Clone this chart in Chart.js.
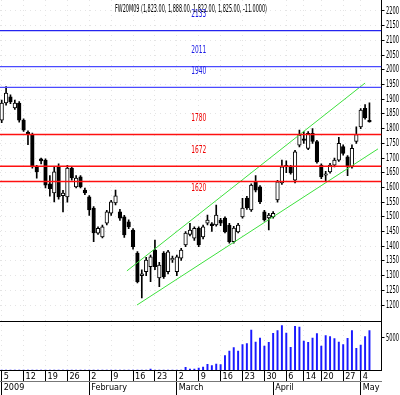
<!DOCTYPE html>
<html><head><meta charset="utf-8">
<script src="https://cdn.jsdelivr.net/npm/chart.js@4.4.1/dist/chart.umd.min.js"></script>
<style>html,body{margin:0;padding:0;background:#fff;}canvas{display:block;}</style>
</head><body>
<canvas id="c" width="400" height="395"></canvas>
<script>
// ---------------- data ----------------
const title = 'FW20M09 (1,823.00, 1,888.00, 1,822.00, 1,825.00, -11.0000)';
const opens = [1829,1887,1908,1870,1887,1829,1788,1778,1670,1697,
  1693,1612,1581,1670,1572,1568,1666,1602,1636,1591,
  1568,1530,1444,1432,1478,1512,1547,1517,1500,1483,
  1455,1377,1300,1313,1330,1387,1292,1377,1313,1353,
  1313,1359,1404,1440,1427,1461,1432,1478,1476,1472,
  1489,1496,1472,1415,1449,1500,1564,1523,1619,1602,
  1517,1496,1500,1557,1615,1675,1670,1625,1744,1765,
  1733,1784,1756,1676,1642,1653,1676,1693,1739,1704,
  1670,1756,1806,1869,1828];
const highs = [1897,1943,1915,1897,1892,1833,1792,1785,1675,1700,
  1697,1640,1670,1680,1590,1675,1670,1640,1640,1598,
  1572,1535,1466,1472,1522,1556,1591,1525,1505,1490,
  1460,1382,1320,1362,1370,1421,1345,1382,1386,1366,
  1370,1393,1450,1478,1466,1466,1472,1506,1480,1540,
  1495,1500,1478,1468,1478,1563,1570,1612,1640,1606,
  1522,1512,1518,1624,1693,1690,1675,1726,1795,1790,
  1790,1800,1760,1680,1655,1682,1700,1770,1745,1708,
  1745,1806,1868,1882,1888];
const lows = [1820,1880,1885,1865,1822,1790,1745,1665,1631,1680,
  1598,1570,1551,1560,1517,1550,1625,1598,1598,1575,
  1505,1415,1440,1428,1472,1505,1540,1488,1430,1460,
  1390,1275,1224,1300,1279,1320,1262,1290,1306,1345,
  1300,1352,1398,1435,1420,1398,1425,1472,1450,1468,
  1470,1445,1410,1410,1445,1495,1525,1518,1585,1545,
  1485,1455,1495,1550,1610,1650,1645,1615,1738,1750,
  1728,1750,1682,1630,1620,1648,1670,1688,1710,1640,
  1665,1750,1800,1832,1822];
const closes = [1887,1921,1891,1887,1829,1795,1783,1670,1653,1690,
  1608,1596,1653,1568,1581,1666,1632,1632,1602,1581,
  1523,1445,1461,1466,1517,1551,1571,1495,1438,1466,
  1398,1279,1306,1353,1364,1330,1336,1296,1381,1359,
  1364,1387,1445,1455,1461,1404,1466,1489,1470,1506,
  1478,1449,1415,1462,1472,1530,1530,1608,1591,1551,
  1489,1506,1512,1619,1670,1670,1649,1721,1778,1760,
  1784,1756,1687,1636,1646,1676,1693,1750,1716,1670,
  1733,1780,1863,1836,1823];
const volumes = [0,0,0,0,0,0,0,0,0,0,
  0,0,0,0,0,0,0,0,0,0,
  0,0,0,0,0,0,0,0,0,0,
  0,0,0,0,160,0,0,0,0,0,
  0,0,420,160,160,310,470,890,680,940,
  830,2240,2970,3490,2970,3960,4110,6250,4380,5000,
  3750,4320,5730,6150,6930,5780,3540,6820,6720,4530,
  4320,5000,5680,3750,5370,5210,4900,4380,3960,4950,
  6150,3390,3910,5210,6150];
const dayTickIdx = [0,5,10,15,20,25,30,35,40,45,50,55,60,65,69,73,78,82];
const dayTickLabels = ['5','12','19','26','2','9','16','23','2','9','16','23','30','6','14','20','27','4'];
const monthTickIdx = [0,20,40,62,82];
const monthTickLabels = ['2009','February','March','April','May'];
const priceTicks = [1200,1250,1300,1350,1400,1450,1500,1550,1600,1650,1700,1750,1800,1850,1900,1950,2000,2050,2100,2150,2200];
const volumeTicks = [5000];
const levelValues = [2133, 2011, 1940, 1780, 1672, 1620];
const channelUpper = [[28.6, 1316], [83.0, 1955]];
const channelLower = [[30.9, 1200], [85.95, 1731]];

// ---------------- style / layout ----------------
const X_MIN = -0.39, X_MAX = 86.75;
const Y_MIN = 1145.6, Y_MAX = 2237.4;
const V_MAX = 7656;
const FONT = "'Liberation Sans Narrow','DejaVu Sans Condensed',sans-serif";
const levelColors = ['#2424f0','#4a4aff','#4a4aff','#ff1010','#ff1010','#ff1010'];
const levelWidths = [1.2,1.2,1.2,1.5,1.5,1.5];
const levelLabelColors = ['#1a1ae6','#1a1ae6','#1a1ae6','#ee0000','#ee0000','#ee0000'];
const levelLabelBelow = [false,false,false,false,false,true];
const GRID = '#e4e4e4';

const idx = opens.map((_, i) => i);
const datasets = [];
levelValues.forEach((v, k) => {
  datasets.push({type:'line', data:[{x:X_MIN,y:v},{x:X_MAX,y:v}], borderColor:levelColors[k],
    backgroundColor:levelColors[k], borderWidth:levelWidths[k], pointRadius:0, fill:false,
    xAxisID:'x', yAxisID:'y', order:-1});
});
[channelUpper, channelLower].forEach(ch => {
  datasets.push({type:'line', data:ch.map(p => ({x:p[0], y:p[1]})), borderColor:'#3ee03e',
    backgroundColor:'#3ee03e', borderWidth:1, pointRadius:0, fill:false,
    xAxisID:'x', yAxisID:'y', order:0});
});
datasets.push({type:'bar', data: idx.map(i => ({x:i, y:[opens[i], closes[i]]})),
  backgroundColor: idx.map(i => closes[i] >= opens[i] ? '#ffffff' : '#000000'),
  borderColor:'#000', borderWidth:1, borderSkipped:false, barThickness:3.6,
  grouped:false, xAxisID:'x', yAxisID:'y', order:1});
datasets.push({type:'bar', data: idx.map(i => ({x:i, y:[lows[i], highs[i]]})),
  backgroundColor:'#000', borderWidth:0, barThickness:1,
  grouped:false, xAxisID:'x', yAxisID:'y', order:2});
datasets.push({type:'bar', data: idx.map(i => ({x:i, y:volumes[i]})),
  backgroundColor:'#1a1aff', borderWidth:0, barThickness:1.3,
  grouped:false, xAxisID:'x', yAxisID:'yv', order:3});

function drawCondensed(ctx, text, x, cy, targetW, size, color, align) {
  ctx.save();
  ctx.font = size + 'px ' + FONT;
  const w = ctx.measureText(text).width;
  const s = Math.min(1, targetW / w);
  ctx.translate(x, cy);
  ctx.scale(s, 1);
  ctx.fillStyle = color;
  ctx.textAlign = align || 'center';
  ctx.textBaseline = 'middle';
  ctx.fillText(text, 0, 0);
  ctx.restore();
}

const textPlugin = {
  id: 'texts',
  afterDraw(chart) {
    const ctx = chart.ctx, xs = chart.scales.x, ys = chart.scales.y, yv = chart.scales.yv;
    drawCondensed(ctx, title, 191, 9, 152, 10, '#000');
    const lx = xs.getPixelForValue(45);
    levelValues.forEach((v, k) => {
      const py = ys.getPixelForValue(v);
      drawCondensed(ctx, String(v), lx, py + (levelLabelBelow[k] ? 7 : -16), 15, 10, levelLabelColors[k]);
    });
    const ax = ys.left + 4.5;
    priceTicks.forEach(v => drawCondensed(ctx, String(v), ax, ys.getPixelForValue(v), 13, 10, '#000', 'left'));
    volumeTicks.forEach(v => drawCondensed(ctx, String(v), ax, yv.getPixelForValue(v), 13, 10, '#000', 'left'));
  }
};

const tickFont = {family: FONT, size: 9};
new Chart(document.getElementById('c'), {
  type: 'bar',
  data: {datasets},
  options: {
    responsive:false, animation:false, devicePixelRatio:1,
    layout:{padding:0},
    plugins:{legend:{display:false}, tooltip:{enabled:false}, title:{display:false}},
    scales:{
      x:{type:'linear', position:'bottom', min:X_MIN, max:X_MAX, offset:false,
        afterBuildTicks: s => { s.ticks = dayTickIdx.map(v => ({value:v})); },
        afterFit: s => { s.height = 11; },
        grid:{offset:false, color:GRID, drawOnChartArea:true, tickLength:11, tickColor:'#000', tickWidth:1},
        border:{color:'#000', dash:[1,4]},
        ticks:{autoSkip:false, maxRotation:0, align:'start', labelOffset:2, padding:-10, font:tickFont, color:'#000',
          callback:(v) => { const k = dayTickIdx.indexOf(v); return k >= 0 ? dayTickLabels[k] : ''; }}
      },
      x2:{type:'linear', position:'bottom', min:X_MIN, max:X_MAX, offset:false,
        afterBuildTicks: s => { s.ticks = monthTickIdx.map(v => ({value:v})); },
        afterFit: s => { s.height = 14; },
        grid:{offset:false, drawOnChartArea:false, tickLength:14, tickColor:'#000'},
        border:{color:'#777'},
        ticks:{autoSkip:false, maxRotation:0, align:'start', labelOffset:2, padding:-13, font:tickFont, color:'#000',
          callback:(v) => { const k = monthTickIdx.indexOf(v); return k >= 0 ? monthTickLabels[k] : ''; }}
      },
      y:{type:'linear', position:'right', stack:'r', stackWeight:321, min:Y_MIN, max:Y_MAX,
        afterBuildTicks: s => { s.ticks = priceTicks.map(v => ({value:v})); },
        afterFit: s => { s.width = 18.5; },
        grid:{color:GRID, tickLength:3, tickColor:'#000'},
        border:{color:'#000', dash:[1,4]},
        ticks:{display:false}
      },
      yv:{type:'linear', position:'right', stack:'r', stackWeight:49, min:0, max:V_MAX,
        afterBuildTicks: s => { s.ticks = volumeTicks.concat([V_MAX]).map(v => ({value:v})); },
        afterFit: s => { s.width = 18.5; },
        grid:{color:c => (c.tick && c.tick.value === V_MAX) ? '#000' : 'rgba(0,0,0,0)', tickLength:3,
          tickColor:c => (c.tick && c.tick.value === V_MAX) ? 'rgba(0,0,0,0)' : '#000'},
        border:{color:'#000'},
        ticks:{display:false}
      }
    }
  },
  plugins:[textPlugin]
});
</script>
</body></html>
